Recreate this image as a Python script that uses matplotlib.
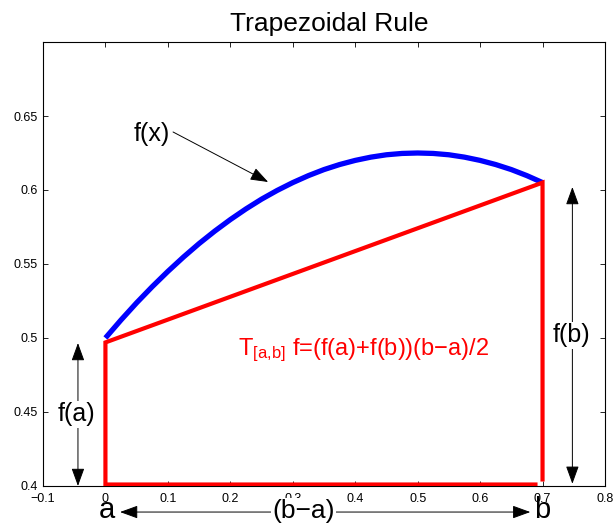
import matplotlib
matplotlib.use("Agg")
import matplotlib.pyplot as plt

plt.rcParams['font.family'] = ['Liberation Sans', 'DejaVu Sans']
plt.rcParams['mathtext.fontset'] = 'custom'
plt.rcParams['mathtext.rm'] = 'Liberation Sans'
plt.rcParams['mathtext.it'] = 'Liberation Sans'

# f(x) gelesen aus dem Bild
fx_x = [0.0, 0.025, 0.05, 0.075, 0.1, 0.125, 0.15, 0.175, 0.2, 0.225, 0.25,
        0.275, 0.3, 0.325, 0.35, 0.375, 0.4, 0.425, 0.45, 0.475, 0.5, 0.525,
        0.55, 0.575, 0.6, 0.625, 0.65, 0.675, 0.7]
fx_y = [0.5, 0.5122, 0.5238, 0.5347, 0.545, 0.5547, 0.5638, 0.5722, 0.58,
        0.5872, 0.5938, 0.5997, 0.605, 0.6097, 0.6138, 0.6172, 0.62, 0.6222,
        0.6238, 0.6247, 0.625, 0.6247, 0.6238, 0.6222, 0.62, 0.6172, 0.6138,
        0.6097, 0.605]

# Trapez (rot)
trap_x = [0.7, 0.7, 0.0, 0.0, 0.692]
trap_y = [0.403, 0.605, 0.497, 0.401, 0.401]

xticks = [-0.1, 0, 0.1, 0.2, 0.3, 0.4, 0.5, 0.6, 0.7, 0.8]
xticklabels = ['\u22120.1', '0', '0.1', '0.2', '0.3', '0.4', '0.5', '0.6', '0.7', '0.8']
yticks = [0.4, 0.45, 0.5, 0.55, 0.6, 0.65]
yticklabels = ['0.4', '0.45', '0.5', '0.55', '0.6', '0.65']

fig = plt.figure(figsize=(6.15, 5.29), dpi=100)
ax = fig.add_axes([0.0699, 0.0813, 0.9138, 0.8393])

ax.plot(fx_x, fx_y, color='#0000ff', lw=3.8, solid_capstyle='butt', zorder=3)
ax.plot(trap_x, trap_y, color='#ff0000', lw=3.0, solid_capstyle='butt',
        solid_joinstyle='miter', zorder=3)

ax.set_xlim(-0.1, 0.8)
ax.set_ylim(0.4, 0.7)
ax.set_xticks(xticks)
ax.set_xticklabels(xticklabels)
ax.set_yticks(yticks)
ax.set_yticklabels(yticklabels)
ax.tick_params(direction='in', length=3.5, width=0.6, labelsize=9,
               top=True, right=True)
ax.tick_params(axis='x', pad=5)
ax.tick_params(axis='y', pad=4)
for s in ax.spines.values():
    s.set_linewidth(0.8)

fig.text(0.535, 0.955, 'Trapezoidal Rule', ha='center', va='center', fontsize=19)

arr = dict(arrowstyle='-|>,head_length=1.1,head_width=0.4', color='black',
           lw=0.7, mutation_scale=10, shrinkA=0, shrinkB=0)
darr = dict(arrowstyle='<|-|>,head_length=1.1,head_width=0.4', color='black',
            lw=0.7, mutation_scale=10, shrinkA=0, shrinkB=0)

# f(x)
ax.annotate('', xy=(0.2606, 0.6054), xytext=(0.1083, 0.6392), arrowprops=arr)
ax.text(0.0747, 0.6378, 'f(x)', ha='center', va='center', fontsize=18)

# f(a)
ax.annotate('', xy=(-0.044, 0.4), xytext=(-0.044, 0.4966), arrowprops=darr,
            annotation_clip=False, zorder=1.9)
ax.text(-0.047, 0.4486, 'f(a)', ha='center', va='center', fontsize=18, zorder=2,
        bbox=dict(facecolor='white', edgecolor='none', pad=1))

# f(b)
ax.annotate('', xy=(0.7478, 0.4015), xytext=(0.7478, 0.602), arrowprops=darr,
            annotation_clip=False, zorder=1.9)
ax.text(0.746, 0.502, 'f(b)', ha='center', va='center', fontsize=18, zorder=2,
        bbox=dict(facecolor='white', edgecolor='none', pad=1))

# (b-a)
ax.annotate('', xy=(0.0234, 0.3824), xytext=(0.6804, 0.3824), arrowprops=darr,
            annotation_clip=False, zorder=1.9)
ax.text(0.3167, 0.383, '(b\u2212a)', ha='center', va='center', fontsize=19,
        zorder=2, clip_on=False,
        bbox=dict(facecolor='white', edgecolor='none', pad=1))
ax.text(0.0026, 0.3838, 'a', ha='center', va='center', fontsize=21, zorder=2,
        clip_on=False)
ax.text(0.7, 0.3838, 'b', ha='center', va='center', fontsize=21, zorder=2,
        clip_on=False)

# Formel
formel = r'T$_{\mathrm{[a{,}b]}}$ f=(f(a)+f(b))(b' + '\u2212' + 'a)/2'
ax.text(0.2125, 0.4885, formel, ha='left', va='baseline', fontsize=17,
        color='#ff0000')

plt.savefig('out.png', dpi=100)
